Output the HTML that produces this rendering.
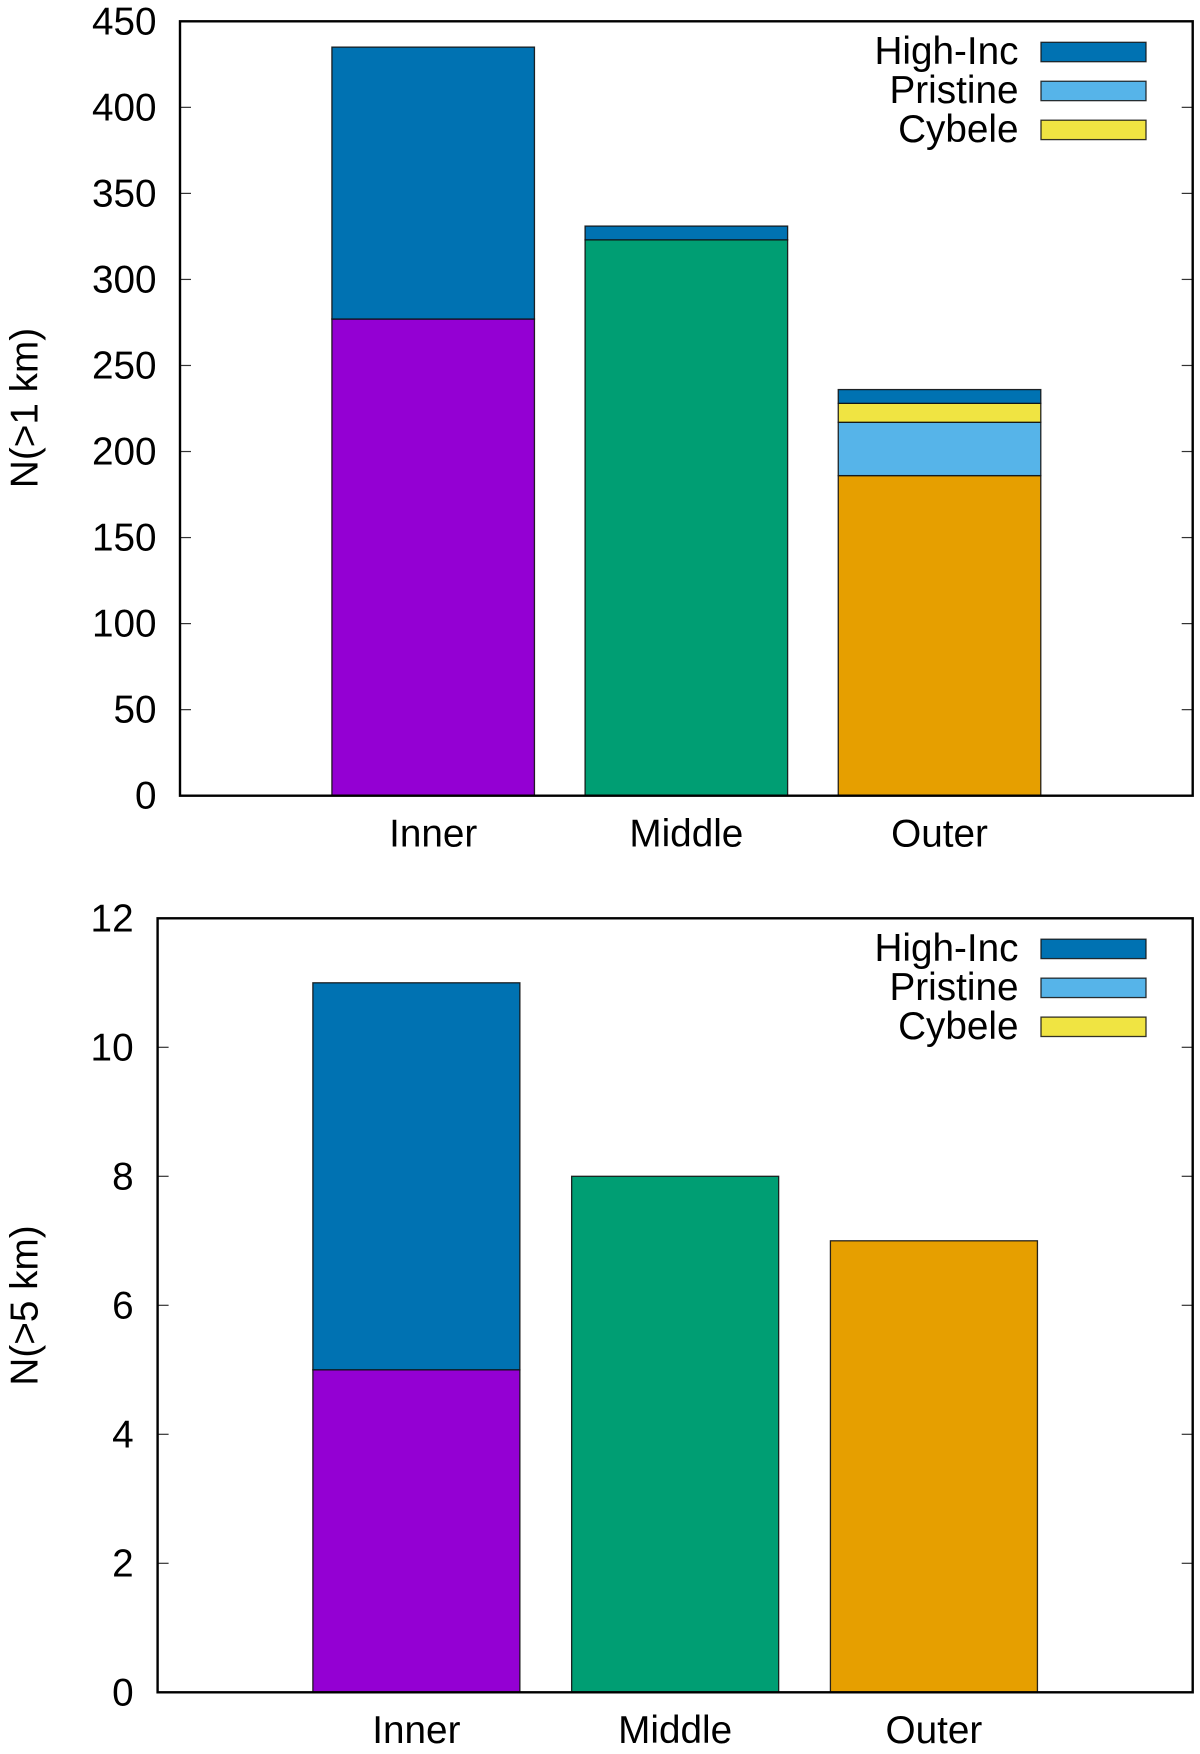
<!DOCTYPE html>
<html lang="en">
<head>
<meta charset="utf-8">
<title>Stacked bar charts N(&gt;1 km) and N(&gt;5 km)</title>
<style>
html,body{margin:0;padding:0;background:#fff;}
svg{display:block;filter:blur(0.35px);}
text{font-family:"Liberation Sans",Arial,sans-serif;font-size:38.7px;fill:#000;}
</style>
</head>
<body>
<svg id="figure" xmlns="http://www.w3.org/2000/svg" width="1200" height="1754" viewBox="0 0 1200 1754"></svg>
<script>
// Shared data
const categories = ['Inner', 'Middle', 'Outer'];
const legendLabels = ['High-Inc', 'Pristine', 'Cybele'];

// Top panel: N(>1 km)
const topTicks = [0, 50, 100, 150, 200, 250, 300, 350, 400, 450];
const topRegion = [277, 323, 186];
const topPristine = [0, 0, 31];
const topCybele = [0, 0, 11];
const topHighInc = [158, 8, 8];
const topCap = [0, null, null];

// Bottom panel: N(>5 km)
const bottomTicks = [0, 2, 4, 6, 8, 10, 12];
const bottomRegion = [5, 8, 7];
const bottomPristine = [0, 0, 0];
const bottomCybele = [0, 0, 0];
const bottomHighInc = [6, 0, 0];
const bottomCap = [null, null, null];

const NS = 'http://www.w3.org/2000/svg';
const svg = document.getElementById('figure');
const regionColors = ['#9400d3', '#009e73', '#e69f00'];
const seriesColors = { pristine: '#56b4e9', cybele: '#f0e442', highInc: '#0072b2', cap: '#0072b2' };

function make(parent, tag, props) {
  const el = document.createElementNS(NS, tag);
  Object.keys(props).forEach(function (k) { el.setAttribute(k, props[k]); });
  parent.appendChild(el);
  return el;
}

function drawPanel(prefix, p, ticks, region, pristine, cybele, highInc, cap) {
  const g = make(svg, 'g', {});
  
  

  const xScale = function (v) { return p.left + (v - p.xMin) / (p.xMax - p.xMin) * (p.right - p.left); };
  const yScale = function (v) { return p.bottom - (v - p.yMin) / (p.yMax - p.yMin) * (p.bottom - p.top); };
  const boxWidth = 0.8;

  // Bars
  const barLayer = make(g, 'g', {});
  
  
  categories.forEach(function (cat, i) {
    const stack = [
      { key: 'region', v: region[i], c: regionColors[i] },
      { key: 'pristine', v: pristine[i], c: seriesColors.pristine },
      { key: 'cybele', v: cybele[i], c: seriesColors.cybele },
      { key: 'high-inc', v: highInc[i], c: seriesColors.highInc },
      { key: 'cap', v: cap[i], c: seriesColors.cap }
    ];
    let base = 0;
    stack.forEach(function (s) {
      if (s.v === null) { return; }
      const x0 = xScale(i - boxWidth / 2);
      const x1 = xScale(i + boxWidth / 2);
      const y0 = yScale(base + s.v);
      const y1 = yScale(base);
      const bar = make(barLayer, 'rect', {
        x: x0, y: y0, width: x1 - x0, height: Math.max(0, y1 - y0),
        fill: s.c, stroke: '#111', 'stroke-width': s.v === 0 ? 1.8 : 1.3, 'stroke-opacity': 0.9
      });
      
      
      base += s.v;
    });
  });

  // Y ticks and labels
  ticks.forEach(function (t) {
    const y = yScale(t);
    const leftTick = make(g, 'line', { x1: p.left, x2: p.left + 11, y1: y, y2: y, stroke: '#333', 'stroke-width': 1.2 });
    
    
    const rightTick = make(g, 'line', { x1: p.right - 11, x2: p.right, y1: y, y2: y, stroke: '#333', 'stroke-width': 1.2 });
    
    
    const label = make(g, 'text', { x: p.tickLabelX, y: y + 13, 'text-anchor': 'end' });
    
    
    label.textContent = String(t);
  });

  // Category labels
  categories.forEach(function (cat, i) {
    const label = make(g, 'text', { x: xScale(i), y: p.catBaseline, 'text-anchor': 'middle' });
    
    
    label.textContent = cat;
  });

  // Frame
  const frame = make(g, 'rect', {
    x: p.left, y: p.top, width: p.right - p.left, height: p.bottom - p.top,
    fill: 'none', stroke: '#000', 'stroke-width': 2.4
  });
  
  

  // Y axis title
  const title = make(g, 'text', {
    x: 0, y: 0, 'text-anchor': 'middle',
    transform: 'translate(' + p.titleX + ' ' + p.titleY + ') rotate(-90)'
  });
  
  
  title.textContent = p.title;

  // Legend
  const legend = make(g, 'g', {});
  
  
  const legendColors = [seriesColors.highInc, seriesColors.pristine, seriesColors.cybele];
  legendLabels.forEach(function (name, i) {
    const y = p.legendTop + i * p.legendStep;
    const label = make(legend, 'text', { x: p.legendTextX, y: y + 21.7, 'text-anchor': 'end' });
    
    
    label.textContent = name;
    const swatch = make(legend, 'rect', {
      x: p.swatchLeft, y: y, width: p.swatchRight - p.swatchLeft, height: 19.4,
      fill: legendColors[i], stroke: '#111', 'stroke-width': 1.3, 'stroke-opacity': 0.85
    });
    
    
  });
}

drawPanel('top', {
  left: 180, right: 1192.7, top: 21.3, bottom: 795.7,
  xMin: -1, xMax: 3, yMin: 0, yMax: 450,
  tickLabelX: 156.5, catBaseline: 846.7,
  title: 'N(>1 km)', titleX: 37.7, titleY: 408,
  legendTop: 42.3, legendStep: 38.95, legendTextX: 1018.5,
  swatchLeft: 1041, swatchRight: 1146
}, topTicks, topRegion, topPristine, topCybele, topHighInc, topCap);

drawPanel('bottom', {
  left: 157.6, right: 1192.7, top: 918.3, bottom: 1692.3,
  xMin: -1, xMax: 3, yMin: 0, yMax: 12,
  tickLabelX: 133.6, catBaseline: 1743,
  title: 'N(>5 km)', titleX: 37.7, titleY: 1305.5,
  legendTop: 939.2, legendStep: 38.95, legendTextX: 1018.5,
  swatchLeft: 1041, swatchRight: 1146
}, bottomTicks, bottomRegion, bottomPristine, bottomCybele, bottomHighInc, bottomCap);
</script>
</body>
</html>
